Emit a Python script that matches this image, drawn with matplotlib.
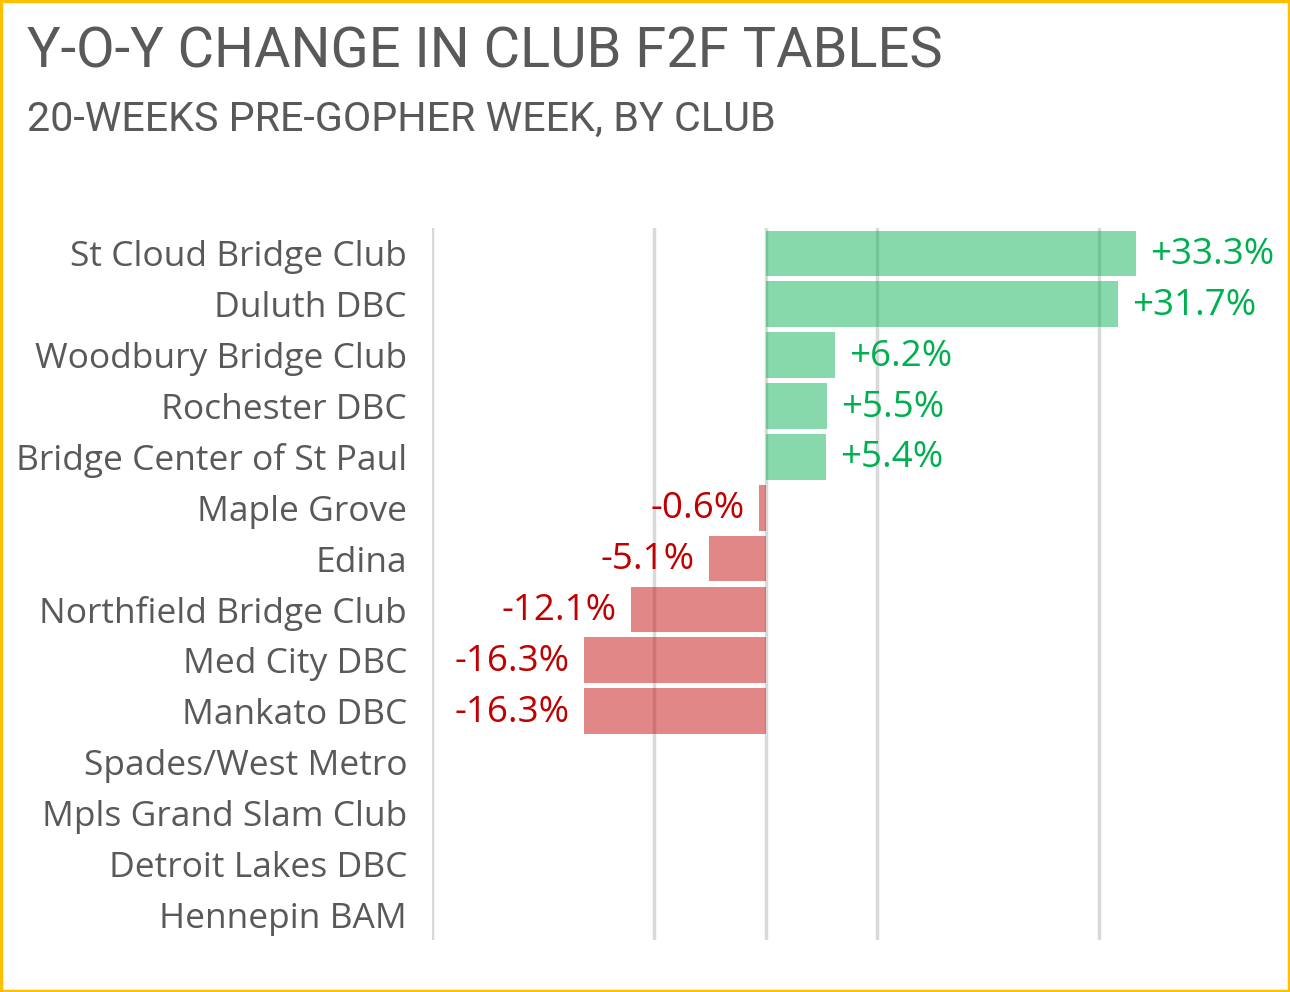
import numpy as np
import matplotlib.pyplot as plt
from matplotlib.patches import Rectangle

clubs = ["St Cloud Bridge Club", "Duluth DBC", "Woodbury Bridge Club", "Rochester DBC",
         "Bridge Center of St Paul", "Maple Grove", "Edina", "Northfield Bridge Club",
         "Med City DBC", "Mankato DBC", "Spades/West Metro", "Mpls Grand Slam Club",
         "Detroit Lakes DBC", "Hennepin BAM"]
change = [33.3, 31.7, 6.2, 5.5, 5.4, -0.6, -5.1, -12.1, -16.3, -16.3,
          np.nan, np.nan, np.nan, np.nan]
grid_x = [-30, -10, 0, 10, 30]

plt.rcParams['font.family'] = ['Open Sans', 'DejaVu Sans']
txt = '#595959'
pos_c, neg_c = '#00B050', '#C00000'

fig = plt.figure(figsize=(12.9, 9.92), dpi=100)
ax = fig.add_axes([432/1290, 1-940/992, 834/1290, 712/992])

y = np.arange(len(clubs))
for g in grid_x:
    ax.axvline(g, color='#D9D9D9', lw=2.5, zorder=1)

for i, v in enumerate(change):
    if np.isnan(v):
        continue
    c = pos_c if v >= 0 else neg_c
    ax.barh(i, v, height=0.9, color=c, alpha=0.47, lw=0, zorder=2)
    lab = f"{v:+.1f}%"
    if v >= 0:
        ax.text(v + 1.3, i + 0.03, lab, color=c, fontsize=26.5, va='center', ha='left')
    else:
        ax.text(v - 1.3, i + 0.03, lab, color=c, fontsize=26.5, va='center', ha='right')

ax.set_xlim(-30, 45)
ax.set_ylim(len(clubs) - 0.5, -0.5)
ax.set_yticks(y)
ax.set_yticklabels(clubs, fontsize=25.5, color=txt)
ax.tick_params(axis='y', length=0, pad=18)
ax.set_xticks([])
for s in ax.spines.values():
    s.set_visible(False)

fig.text(27/1290, 1-52/992, "Y-O-Y CHANGE IN CLUB F2F TABLES", fontsize=40.3,
         color=txt, va='center', ha='left', family='Roboto')
fig.text(27/1290, 1-119/992, "20-WEEKS PRE-GOPHER WEEK, BY CLUB", fontsize=29.7,
         color=txt, va='center', ha='left', family='Roboto')

fig.patches.append(Rectangle((0.001, 0.0015), 0.998, 0.997, transform=fig.transFigure,
                             fill=False, edgecolor='#FFC000', lw=2.5))

fig.savefig('out.png', dpi=100)
